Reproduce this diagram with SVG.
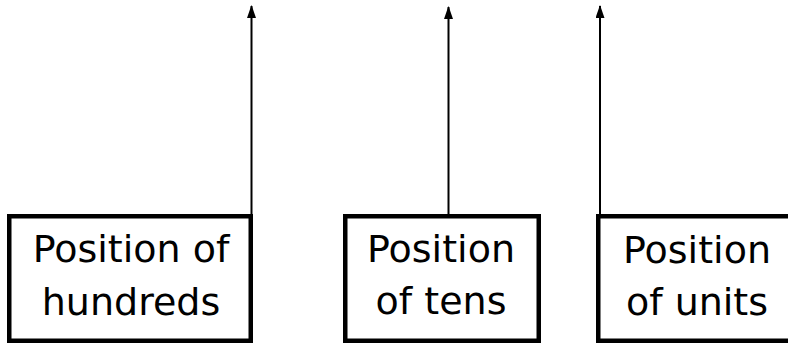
<svg xmlns="http://www.w3.org/2000/svg" width="788" height="344" viewBox="0 0 788 344">
  <style>
    .box { fill: #ffffff; stroke: #000000; stroke-width: 4.5; }
    .label { font-family: "DejaVu Sans", Verdana, sans-serif; font-size: 38px; fill: #000000; text-anchor: middle; }
    .wire { stroke: #000000; stroke-width: 2; fill: none; marker-end: url(#head); }
  </style>
  <defs>
    <!-- filled triangular head, tip at the end of the line -->
    <marker id="head" markerUnits="userSpaceOnUse" viewBox="0 0 13 9" refX="12" refY="4.5" markerWidth="13" markerHeight="9" orient="auto">
      <path d="M0 0 L13 4.5 L0 9 Z" fill="#000000"/>
    </marker>
  </defs>

  <rect width="788" height="344" fill="#ffffff"/>

  <!-- connectors: vertical arrows pointing upward -->
  <g id="connectors">
    <line class="wire" x1="251.5" y1="214" x2="251.5" y2="6"/>
    <line class="wire" x1="448.5" y1="214" x2="448.5" y2="7"/>
    <line class="wire" x1="600" y1="214" x2="600" y2="6"/>
  </g>

  <g id="hundreds">
    <rect class="box" x="9.25" y="216.25" width="241.5" height="124.5"/>
    <text class="label" x="131" y="262">Position of</text>
    <text class="label" x="131" y="315">hundreds</text>
  </g>

  <g id="tens">
    <rect class="box" x="345.25" y="216.25" width="193.5" height="124.5"/>
    <text class="label" x="441" y="262">Position</text>
    <text class="label" x="441" y="314">of tens</text>
  </g>

  <g id="units">
    <rect class="box" x="598.25" y="216.25" width="210" height="124.5"/>
    <text class="label" x="697" y="263">Position</text>
    <text class="label" x="697" y="315">of units</text>
  </g>
</svg>
